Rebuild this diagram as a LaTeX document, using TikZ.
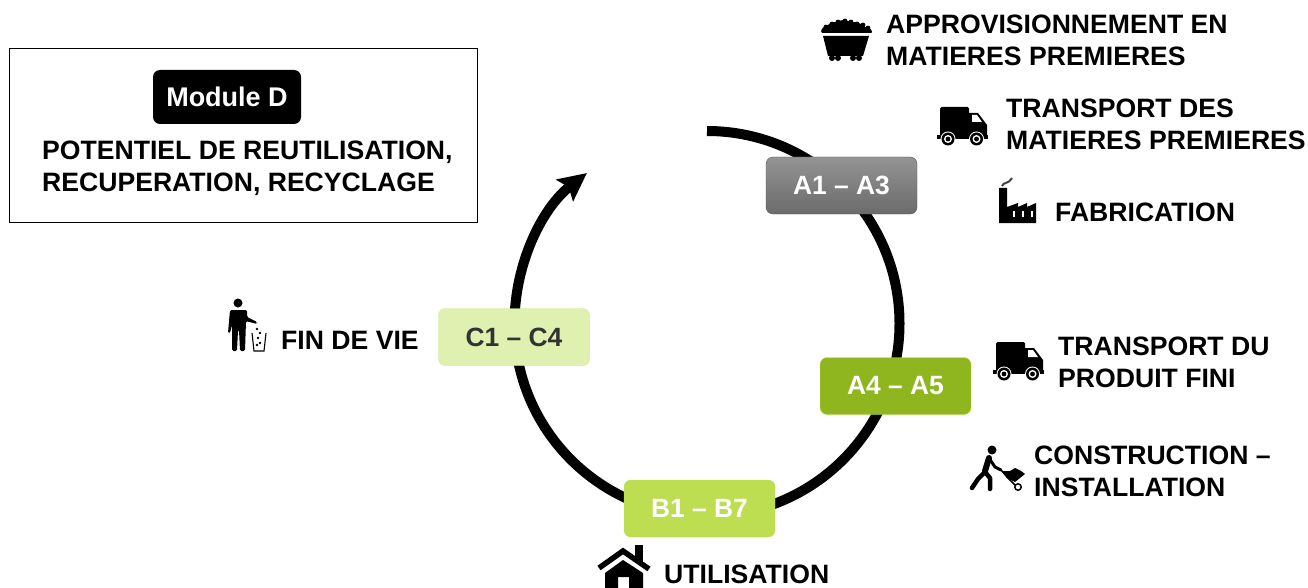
\documentclass[tikz,border=0pt]{standalone}
\usepackage{fontspec}
\setmainfont{Liberation Sans}
\usetikzlibrary{arrows.meta}
\definecolor{stageA}{HTML}{8FB51F}
\definecolor{stageB}{HTML}{BEDE52}
\definecolor{stageC}{HTML}{DFF0B0}
\definecolor{stageCline}{HTML}{CBE58A}
\tikzset{
  stagebox/.style={rounded corners=7pt,minimum width=151pt,minimum height=57pt,inner sep=0pt,
    font=\fontsize{26.4}{30}\selectfont\bfseries,text=white},
  caption/.style={anchor=west,align=left,inner sep=0pt,
    font=\fontsize{26.6}{32}\selectfont\bfseries},
  pics/truck/.style={code={
    \fill[rounded corners=1.5pt] (3,-38) rectangle (32,-7);
    \fill (32,-8) -- (32,-32) -- (41,-32) -- (50,-20) -- (50,-8) -- cycle;
    \fill (0,-10) rectangle (51,-6);
    \fill[white] (35,-30) -- (40,-30) -- (45,-23) -- (35,-23) -- cycle;
    \foreach \wheelx in {11,39.5} {
      \fill[white] (\wheelx,-6) circle[radius=7.5pt];
      \fill (\wheelx,-6) circle[radius=6.5pt];
      \fill[white] (\wheelx,-6) circle[radius=4pt];
      \fill (\wheelx,-6) circle[radius=2.4pt];
    }
  }}
}
\begin{document}
\begin{tikzpicture}[x=1pt,y=-1pt]
  \useasboundingbox (0,0) rectangle (1308,588);
  % life cycle ring
  \coordinate (ringstart) at (707,131);
  \draw[line width=10pt,shorten >=2pt,-{Stealth[length=28pt,width=27pt,inset=5pt]}] (ringstart) arc[start angle=90,end angle=-232,radius=192.5pt];
  % stages
  \draw
    (841.5,185.5) node[stagebox,draw=black!65,top color=black!42,bottom color=black!58] (a13){A1 – A3}
    (895.5,386) node[stagebox,fill=stageA,draw=stageB] (a45){A4 – A5}
    (699.5,508.5) node[stagebox,fill=stageB,draw=stageB] (b17){B1 – B7}
    (514,337) node[stagebox,fill=stageC,draw=stageCline,text=black!80] (c14){C1 – C4};
  % module D
  \draw[line width=0.8pt] (9,48) rectangle (477,222);
  \draw
    (227,97) node[rounded corners=7pt,fill=black,text=white,minimum width=148pt,minimum height=54pt,inner sep=0pt,font=\fontsize{27}{30}\selectfont\bfseries] (moduled){Module D}
    (42,168) node[caption] (potentiel){POTENTIEL DE REUTILISATION,\\RECUPERATION, RECYCLAGE};
  % captions
  \draw
    (886,40) node[caption] (appro){APPROVISIONNEMENT EN\\MATIERES PREMIERES}
    (1006,124) node[caption] (transpa){TRANSPORT DES\\MATIERES PREMIERES}
    (1055,212) node[caption] (fabri){FABRICATION}
    (1058,362) node[caption] (transpb){TRANSPORT DU\\PRODUIT FINI}
    (1034,471) node[caption] (constr){CONSTRUCTION –\\INSTALLATION}
    (664,574) node[caption] (utili){UTILISATION}
    (281,340) node[caption] (fin){FIN DE VIE};
  % icons
  \pic at (937,145) {truck};
  \pic at (993,380) {truck};
  % ore cart
  \fill (821,31) .. controls (822,27) and (826,26) .. (828,25) .. controls (831,21) and (836,23) .. (839,21)
    .. controls (843,19) and (848,21) .. (852,22) .. controls (858,22) and (862,24) .. (865,27)
    .. controls (868,27) and (872,29) .. (872,32) -- (871,33) -- (822,33) -- cycle;
  \foreach \lumpx/\lumpy in {826/27,832/24,838/22,845/21,851/22,857/24,863/25,868/28} \fill (\lumpx,\lumpy) circle[radius=2.4pt];
  \fill (823,36) -- (869,36) -- (863,56) -- (828,56) -- cycle;
  \foreach \wheelx in {832,838,853,859} \fill (\wheelx,58) circle[radius=3pt];
  % factory
  \fill (999,188) -- (1007,188) -- (1007,207) -- (1018,203) -- (1018,207) -- (1027,203) -- (1027,207) -- (1036,203) -- (1036,223) -- (999,223) -- cycle;
  \foreach \winx in {1012.5,1021.5,1030.5} \fill[white] (\winx,211) rectangle ++(2.8,5.5);
  \draw[line width=2pt,black!75] (1002,186) .. controls (1003,182) and (1009,184) .. (1012,178);
  % worker and wheelbarrow
  \fill (992,450) circle[radius=4.5pt];
  \draw[line width=6pt,line cap=round,line join=round] (989,458) -- (985,471);
  \draw[line width=4.5pt,line cap=round,line join=round] (985,472) -- (978,479) -- (972,488);
  \draw[line width=4.5pt,line cap=round,line join=round] (985,472) -- (990,478) -- (990,489);
  \draw[line width=3pt,line cap=round,line join=round] (989,458) -- (995,467) -- (1001,470);
  \draw[line width=1.5pt] (1001,470) -- (1007,477) -- (1015,485);
  \fill (1002,471) -- (1010,471) -- (1015,468) -- (1021,471) -- (1025,474) -- (1015,482) -- (1007,478) -- cycle;
  \draw[line width=1.5pt,fill=white] (1018,487) circle[radius=3.2pt];
  % house
  \fill (635,545) rectangle (643,562);
  \draw[line width=5.5pt] (599,568) -- (623,551) -- (649,569);
  \fill (623,560) -- (643,573) -- (643,588) -- (629,588) -- (629,577) -- (618,577) -- (618,588) -- (605,588) -- (605,573) -- cycle;
  % person and bin
  \fill (238,303) circle[radius=4.5pt];
  \fill[rounded corners=1.5pt] (230,310) -- (247,310) -- (247,317) -- (257,322) -- (257,324) -- (246,321) -- (245,351) -- (240,351) -- (239,330) -- (238,330) -- (237,351) -- (232,351) -- (232,325) -- (230,333) -- (228,333) -- cycle;
  \draw[line width=1.1pt] (252,333) -- (254,351) -- (264,351) -- (266,333);
  \foreach \dotx/\doty in {257/329,260/333,258/338,260/343,257/345} \fill (\dotx,\doty) circle[radius=1.3pt];
\end{tikzpicture}
\end{document}
